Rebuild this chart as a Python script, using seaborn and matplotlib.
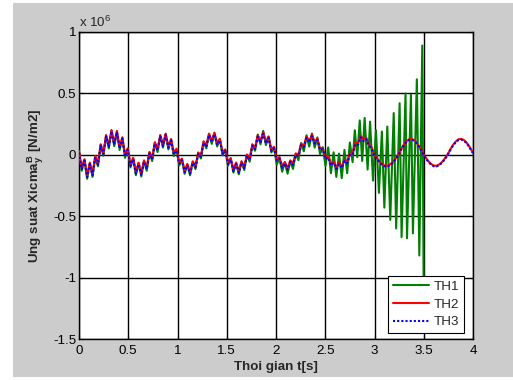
import numpy as np
import pandas as pd
import matplotlib
matplotlib.use("Agg")
import matplotlib.pyplot as plt
import seaborn as sns
from matplotlib.patches import Rectangle

# ---------------- data (stress in units of 1e6 N/m2) ----------------
# common sampling of the time axis [s]
time = [round(k * 0.0275, 4) for k in range(146)] + [4.0]

th2 = [0.030, -0.105, -0.036, -0.170, -0.064, -0.155, -0.008, -0.069,
       0.086, 0.017, 0.161, 0.077, 0.202, 0.095, 0.195, 0.064, 0.143, 0.000, 0.053,
       -0.078, -0.024, -0.141, -0.064, -0.152, -0.045, -0.105, 0.023,
       -0.026, 0.103, 0.047, 0.161, 0.084, 0.173, 0.069, 0.129, 0.015, 0.050,
       -0.062, -0.031, -0.130, -0.074, -0.142, -0.053, -0.091, 0.019,
       -0.005, 0.110, 0.077, 0.173, 0.114, 0.181, 0.093, 0.131, 0.021, 0.044,
       -0.064, -0.026, -0.120, -0.063, -0.134, -0.052, -0.099, 0.003,
       -0.031, 0.086, 0.058, 0.160, 0.110, 0.185, 0.104, 0.150, 0.044, 0.065,
       -0.035, -0.018, -0.093, -0.058, -0.109, -0.045, -0.070, 0.012,
       0.001, 0.091, 0.074, 0.149, 0.112, 0.164, 0.104, 0.132, 0.050, 0.057,
       -0.023, -0.010, -0.074, -0.053, -0.103, -0.064, -0.096, -0.040, -0.057, 0.010,
       0.012, 0.098, 0.094, 0.155, 0.124, 0.141, 0.086, 0.064, 0.000,
       -0.029, -0.057, -0.078, -0.089, -0.088, -0.076, -0.055, -0.026,
       0.008, 0.050, 0.086, 0.113, 0.128, 0.128, 0.115, 0.089, 0.053, 0.012,
       -0.023, -0.052, -0.075, -0.088, -0.089, -0.079, -0.059, -0.032,
       0.000, 0.041, 0.078, 0.106, 0.125, 0.130, 0.122, 0.102, 0.071, 0.034,
       0.020]

th3 = [0.018, -0.117, -0.048, -0.182, -0.076, -0.167, -0.020, -0.081,
       0.074, 0.005, 0.149, 0.065, 0.190, 0.083, 0.183, 0.052, 0.131, -0.012, 0.041,
       -0.090, -0.036, -0.153, -0.076, -0.164, -0.057, -0.117, 0.011,
       -0.038, 0.091, 0.035, 0.149, 0.072, 0.161, 0.057, 0.117, 0.003, 0.038,
       -0.074, -0.043, -0.142, -0.086, -0.154, -0.065, -0.103, 0.007,
       -0.017, 0.098, 0.065, 0.161, 0.102, 0.169, 0.081, 0.119, 0.009, 0.032,
       -0.076, -0.038, -0.132, -0.075, -0.146, -0.064, -0.111, -0.009,
       -0.043, 0.074, 0.046, 0.148, 0.098, 0.173, 0.092, 0.138, 0.032, 0.053,
       -0.047, -0.030, -0.105, -0.070, -0.121, -0.057, -0.082, 0.000,
       -0.011, 0.079, 0.062, 0.137, 0.100, 0.152, 0.092, 0.120, 0.038, 0.045,
       -0.035, -0.022, -0.086, -0.065, -0.115, -0.076, -0.108, -0.052, -0.069, -0.002,
       0.000, 0.086, 0.082, 0.143, 0.112, 0.129, 0.074, 0.052, -0.012,
       -0.035, -0.063, -0.084, -0.095, -0.094, -0.082, -0.061, -0.032,
       0.002, 0.044, 0.080, 0.107, 0.122, 0.122, 0.109, 0.083, 0.047, 0.006,
       -0.029, -0.058, -0.081, -0.094, -0.095, -0.085, -0.065, -0.038,
       -0.006, 0.035, 0.072, 0.100, 0.119, 0.124, 0.116, 0.096, 0.065, 0.028,
       0.014]

th1_head = [0.025, -0.130, -0.041, -0.195, -0.069, -0.180, -0.013, -0.094,
            0.081, -0.008, 0.156, 0.052, 0.197, 0.070, 0.190, 0.039, 0.138, -0.025, 0.048,
            -0.103, -0.029, -0.166, -0.069, -0.177, -0.050, -0.130, 0.018,
            -0.051, 0.098, 0.022, 0.156, 0.059, 0.168, 0.044, 0.124, -0.010, 0.045,
            -0.087, -0.036, -0.155, -0.079, -0.167, -0.058, -0.116, 0.014,
            -0.030, 0.105, 0.052, 0.168, 0.089, 0.176, 0.068, 0.126, -0.004, 0.039,
            -0.089, -0.031, -0.145, -0.068, -0.159, -0.057, -0.124, -0.002,
            -0.056, 0.081, 0.033, 0.165, 0.085, 0.195, 0.079, 0.145, 0.019, 0.060,
            -0.080, -0.023, -0.138, -0.063, -0.154, -0.050, -0.115, 0.007,
            -0.044, 0.096, 0.029, 0.159, 0.067, 0.174, 0.059, 0.142, 0.005, 0.062,
            -0.090, 0.060, -0.150, 0.020, -0.180, 0.010, -0.190, 0.040, -0.150]
th1_tail_time = [2.75, 2.7775, 2.80, 2.825, 2.85, 2.875, 2.90, 2.93, 2.955, 2.985,
                 3.015, 3.045, 3.075, 3.10, 3.13, 3.16, 3.195, 3.22, 3.255, 3.275,
                 3.315, 3.33, 3.37, 3.39, 3.43, 3.455, 3.485, 3.50]
th1_tail = [0.10, -0.06, 0.20, -0.02, 0.28, -0.05, 0.30, -0.12, 0.27, -0.21,
            0.20, -0.31, 0.19, -0.43, 0.23, -0.53, 0.34, -0.60, 0.42, -0.67,
            0.50, -0.68, 0.49, -0.64, 0.615, -0.82, 0.89, -1.25]
th1_time = time[:len(th1_head)] + th1_tail_time
th1 = th1_head + th1_tail

series_names = ["TH1", "TH2", "TH3"]
x_ticks = [0, 0.5, 1, 1.5, 2, 2.5, 3, 3.5, 4]
x_tick_labels = ["0", "0.5", "1", "1.5", "2", "2.5", "3", "3.5", "4"]
y_ticks = [-1.5, -1, -0.5, 0, 0.5, 1]
y_tick_labels = ["-1.5", "-1", "-0.5", "0", "0.5", "1"]

# ---------------- styling ----------------
sns.set_style("white")
plt.rcParams['font.family'] = ['Liberation Sans', 'DejaVu Sans']
plt.rcParams['mathtext.fontset'] = 'custom'
plt.rcParams['mathtext.rm'] = 'Liberation Sans'
plt.rcParams['mathtext.bf'] = 'Liberation Sans:bold'

FS = 9.6

fig = plt.figure(figsize=(5.13, 3.80), dpi=100, facecolor="white")
fig.patches.append(Rectangle((13 / 513, 3 / 380), 1 - 13 / 513, 374 / 380,
                             transform=fig.transFigure, facecolor="#cccccc",
                             edgecolor="none", zorder=-10))
ax = fig.add_axes([79 / 513, 1 - 339 / 380, (473 - 79) / 513, (339 - 32) / 380])
ax.set_facecolor("white")

df1 = pd.DataFrame({"t": th1_time, "v": th1})
df_all = pd.DataFrame({"t": time, "TH2": th2, "TH3": th3})

sns.lineplot(data=df1, x="t", y="v", ax=ax, color="#008000", lw=1.5,
             label=series_names[0], zorder=3)
sns.lineplot(data=df_all, x="t", y="TH2", ax=ax, color="#ff0000", lw=1.5,
             label=series_names[1], zorder=4)
sns.lineplot(data=df_all, x="t", y="TH3", ax=ax, color="#0000ff", lw=1.5,
             linestyle=(0, (1, 1)), label=series_names[2], zorder=5)

ax.set_xlim(0, 4)
ax.set_ylim(-1.5, 1)
ax.set_xticks(x_ticks)
ax.set_xticklabels(x_tick_labels)
ax.set_yticks(y_ticks)
ax.set_yticklabels(y_tick_labels)
ax.grid(True, color="black", lw=1.0, ls="-")
ax.set_axisbelow(True)
for s in ax.spines.values():
    s.set_color("black")
    s.set_linewidth(1.0)
ax.tick_params(direction="in", length=3, width=0.8, labelsize=FS,
               top=True, right=True, bottom=True, left=True, colors="black", pad=2)
ax.tick_params(axis="x", pad=4)

ax.set_xlabel("Thoi gian t[s]", fontsize=FS, fontweight="bold", labelpad=3)
ax.set_ylabel(r"Ung suat Xicma$_{\mathbf{y}}^{\mathbf{B}}$ [N/m2]", fontsize=FS,
              fontweight="bold", labelpad=5)

ax.text(0.0, 1.005, r"x 10$^{6}$", transform=ax.transAxes, fontsize=FS,
        ha="left", va="bottom")

leg = ax.legend(loc="lower right", bbox_to_anchor=(1 - 9 / 394, 6 / 307),
                borderaxespad=0, fancybox=False, framealpha=1, edgecolor="black",
                fontsize=FS, handlelength=2.7, handletextpad=0.4,
                borderpad=0.35, labelspacing=0.4)
leg.get_frame().set_linewidth(0.8)
leg.set_zorder(10)

fig.savefig("out.png", dpi=100, facecolor=fig.get_facecolor())
